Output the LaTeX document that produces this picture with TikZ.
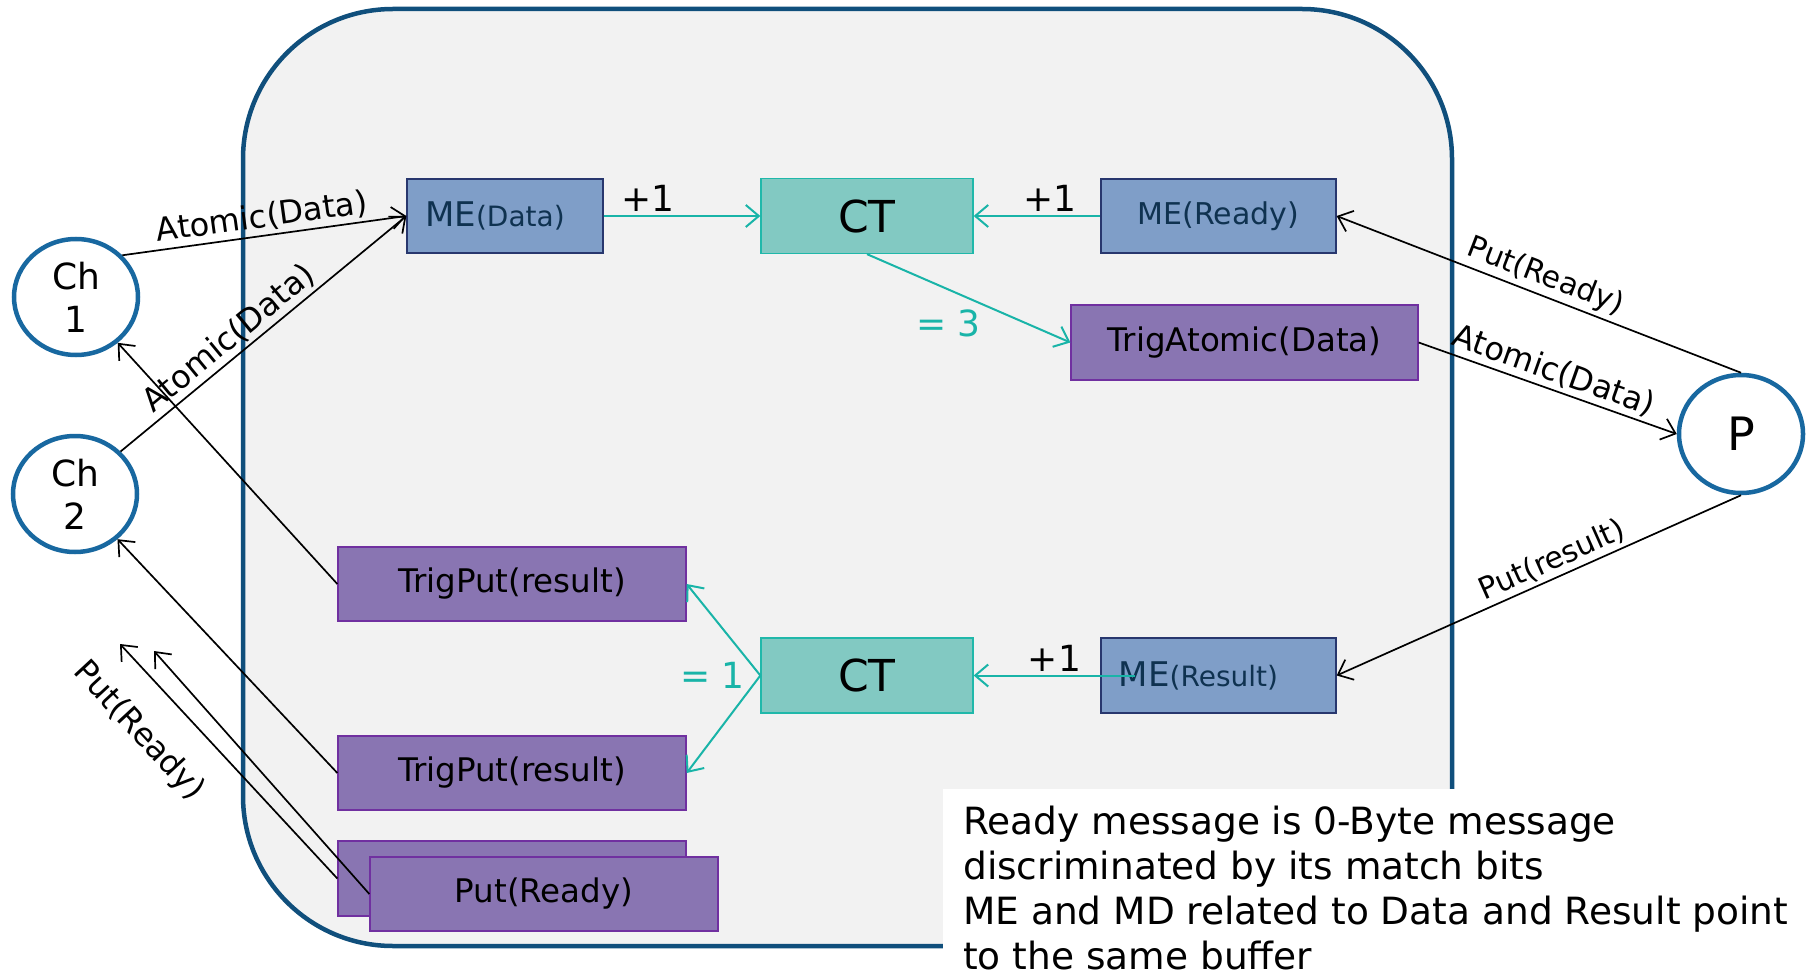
\documentclass[tikz,border=0pt]{standalone}
\usepackage{fontspec}
\setmainfont{DejaVu Sans}
\usepackage{tikz}
\usetikzlibrary{arrows.meta,shapes.geometric,positioning}
\definecolor{frameblue}{RGB}{16,79,124}
\definecolor{ringblue}{RGB}{24,104,160}
\definecolor{mefill}{RGB}{127,158,200}
\definecolor{medraw}{RGB}{40,55,110}
\definecolor{metext}{RGB}{15,50,80}
\definecolor{ctfill}{RGB}{130,201,194}
\definecolor{ctdraw}{RGB}{32,184,170}
\definecolor{trigfill}{RGB}{137,117,178}
\definecolor{trigdraw}{RGB}{112,48,160}
\definecolor{tealline}{RGB}{25,180,168}
\definecolor{bggray}{RGB}{242,242,242}
\newcommand{\fs}[2]{\fontsize{#1}{#2}\selectfont}

\begin{document}
\begin{tikzpicture}[x=1pt, y=-1pt, >={Straight Barb[length=13pt,width=22pt]},
             mebox/.style={rectangle, draw=medraw, fill=mefill, line width=1.3pt,
                           minimum width=235pt, minimum height=74pt, text=metext,
                           font=\fs{30}{36}},
             ctbox/.style={rectangle, draw=ctdraw, fill=ctfill, line width=1.3pt,
                           minimum width=212pt, minimum height=75pt, font=\fs{44}{52}},
             trigbox/.style={rectangle, draw=trigdraw, fill=trigfill, line width=1.3pt,
                             minimum width=348pt, minimum height=74pt, font=\fs{32.5}{39}},
             ring/.style={ellipse, draw=ringblue, fill=white, line width=4.5pt,
                          minimum width=124pt, minimum height=116pt, inner sep=0pt,
                          align=center, font=\fs{36}{43}},
             msg/.style={line width=1.7pt},
             cnt/.style={draw=tealline, line width=2pt},
             lbl/.style={font=\fs{32}{38}},
             lblsmall/.style={font=\fs{30}{36}},
             pluslbl/.style={font=\fs{36}{43}},
             cntlbl/.style={font=\fs{36}{43}, text=tealline}]
\useasboundingbox (0,0) rectangle (1814,973);
%% rounded frame
\draw[line width=4.5pt, draw=frameblue, fill=bggray, rounded corners=150pt]
  (243,9) rectangle (1452,946);

%% upper row: data path
\node[mebox, minimum width=196pt] (meD) at (505,216)
  {\hspace*{-20pt}\fs{34}{40}ME\fs{28}{34}(Data)};
\node[ctbox]  (ctA)   at (867,216)      {CT};
\node[mebox]  (meR)   at (1218.5,216)   {ME(Ready)};
\node[trigbox, minimum width=347pt, minimum height=75pt] (trigA) at (1244.5,342.5) {TrigAtomic(Data)};

%% lower row: result path
\node[trigbox] (tpA)  at (512,584)      {TrigPut(result)};
\node[ctbox]   (ctB)  at (867,675.5)    {CT};
\node[mebox, minimum height=75pt] (meRes) at (1218.5,675.5)
  {\hspace*{-40pt}\fs{34}{40}ME\fs{28}{34}(Result)};
\node[trigbox] (tpB)  at (512,773)      {TrigPut(result)};
\node[trigbox, minimum height=75pt] (prBack) at (512,878.5) {};
\node[trigbox] (prFront) at (544,894)   {Put(Ready)};

%% peers
\node[ring] (chA) at (76,297)  {Ch\\1};
\node[ring] (chB) at (75,494)  {Ch\\2};
\node[ring, minimum height=118pt, font=\fs{46}{54}] (pNode) at (1741,434) {P};

%% counter arrows (teal)
\draw[cnt, ->] (meD.east) -- (ctA.west) node[pos=0.28, above, pluslbl] {+1};
\draw[cnt, <-] (ctA.east) -- (meR.west) node[pos=0.6, above, pluslbl] {+1};
\draw[cnt, ->] (ctA.south) -- (trigA.west) node[pos=0.4, below=16pt, cntlbl] {= 3};
\draw[cnt, ->] (ctB.west) -- (tpA.east);
\draw[cnt, ->] (ctB.west) -- (tpB.east);
\node[cntlbl, left=12pt of ctB.west] (eqB) {= 1};
\draw[cnt, <-] (ctB.east) -- ([xshift=35pt]meRes.west)
  node[midway, above, pluslbl] {+1};

%% messages (black)
\draw[msg, ->] (chA.42) -- (meD.west) node[midway, above, sloped, lbl] {Atomic(Data)};
\draw[msg, ->] (chB.43) -- (meD.west) node[pos=0.42, above, sloped, lbl] {Atomic(Data)};
\draw[msg, ->] (tpA.west) -- (chA);
\draw[msg, ->] (tpB.west) -- (chB);
\coordinate (prEndA) at (120,644);
\coordinate (prEndB) at (154,651);
\draw[msg, <-] (prEndA) -- (prBack.west) node[pos=0.24, below=26pt, sloped, lbl] {Put(Ready)};
\draw[msg, <-] (prEndB) -- (prFront.west);
\draw[msg, <-] (meR.east) -- (pNode.north) node[midway, above, sloped, lblsmall] {Put(Ready)};
\draw[msg, ->] (trigA.east) -- (pNode.west) node[midway, above, sloped, lbl] {Atomic(Data)};
\draw[msg, <-] (meRes.east) -- (pNode.south) node[pos=0.55, above, sloped, lblsmall] {Put(result)};

%% note
\fill[white] (943,789) rectangle (1814,973);
\node[anchor=north west, inner sep=0pt, align=left, font=\fs{37.5}{45}] (note) at (963,806)
  {Ready message is 0-Byte message\\discriminated by its match bits\\ME and MD related to Data and Result point\\to the same buffer};
\end{tikzpicture}
\end{document}
